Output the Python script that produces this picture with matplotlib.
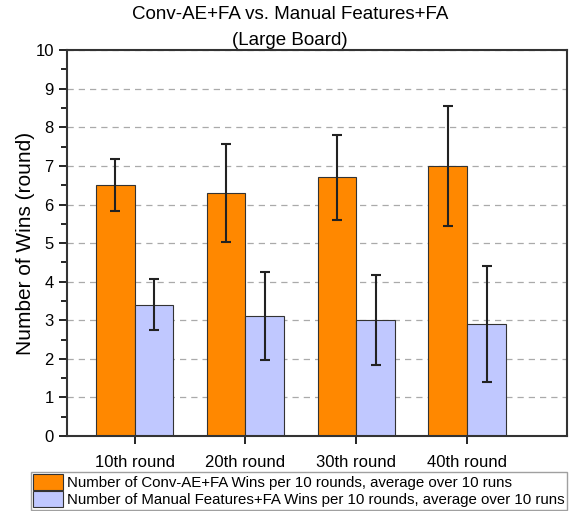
import numpy as np
import matplotlib.pyplot as plt
from matplotlib.ticker import MultipleLocator

plt.rcParams['font.family'] = ['Liberation Sans', 'DejaVu Sans']

rounds = ['10th round', '20th round', '30th round', '40th round']
conv_mean = [6.5, 6.3, 6.7, 7.0]
conv_err = [0.67, 1.27, 1.1, 1.55]
manual_mean = [3.4, 3.1, 3.0, 2.9]
manual_err = [0.66, 1.14, 1.17, 1.5]

x = np.arange(1, len(rounds) + 1)
w = 0.35

fig = plt.figure(figsize=(5.8, 5.11), dpi=100)
ax = fig.add_axes([0.1155, 0.1468, 0.862, 0.755])

ax.grid(axis='y', linestyle=(0, (5, 4)), color='#aaaaaa', linewidth=0.9)
ax.set_axisbelow(True)

ekw = dict(ecolor='#222222', elinewidth=1.5, capsize=3.5, capthick=1.5)
b1 = ax.bar(x - w / 2, conv_mean, w, yerr=conv_err, color='#ff8800',
            edgecolor='#333333', linewidth=0.8, error_kw=ekw,
            label='Number of Conv-AE+FA Wins per 10 rounds, average over 10 runs')
b2 = ax.bar(x + w / 2, manual_mean, w, yerr=manual_err, color='#c0c8ff',
            edgecolor='#333333', linewidth=0.8, error_kw=ekw,
            label='Number of Manual Features+FA Wins per 10 rounds, average over 10 runs')

ax.set_xlim(0.39, 4.9)
ax.set_ylim(0, 10)
ax.set_xticks(x)
ax.set_xticklabels(rounds, fontsize=12)
ax.yaxis.set_major_locator(MultipleLocator(1))
ax.yaxis.set_minor_locator(MultipleLocator(0.5))
ax.tick_params(axis='y', labelsize=12, length=6, width=1.2)
ax.tick_params(axis='y', which='minor', length=4, width=1.2)
ax.tick_params(axis='x', length=6, width=1.2, pad=8)
for s in ax.spines.values():
    s.set_linewidth(1.5)
    s.set_color('#333333')

ax.set_ylabel('Number of Wins (round)', fontsize=15)
ax.yaxis.set_label_coords(-0.064, 0.5)
fig.text(0.5, 0.972, 'Conv-AE+FA vs. Manual Features+FA', fontsize=13.5,
         ha='center', va='center')
fig.text(0.5, 0.921, '(Large Board)', fontsize=13.5, ha='center', va='center')

leg = fig.legend(handles=[b1, b2], loc='lower left',
                 bbox_to_anchor=(0.05, 0.0), fontsize=10.8, frameon=True,
                 fancybox=False, edgecolor='#888888', borderpad=0.15,
                 handlelength=2.0, handleheight=1.25, handletextpad=0.3,
                 labelspacing=0.1, borderaxespad=0.1)
for h in leg.legend_handles:
    h.set_edgecolor('#333333')

fig.savefig('out.png', dpi=100)
